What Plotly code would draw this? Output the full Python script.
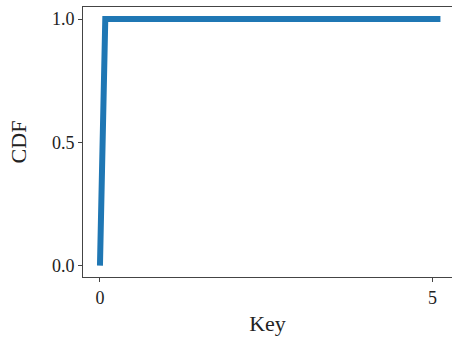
import plotly.graph_objects as go

keys = [0.0, 0.08, 5.12]
cdf = [0.0, 1.0, 1.0]
x_ticks = [0, 5]
y_ticks = [0.0, 0.5, 1.0]
y_tick_labels = ["0.0", "0.5", "1.0"]

font = dict(family="Liberation Serif, DejaVu Serif, serif", size=18, color="#222")

fig = go.Figure()
fig.add_trace(go.Scatter(x=keys, y=cdf, mode="lines",
                         line=dict(color="#1f77b4", width=6), showlegend=False))
fig.update_layout(
    width=452, height=341,
    margin=dict(l=83, r=0, t=7, b=64, autoexpand=False),
    paper_bgcolor="white", plot_bgcolor="white",
    font=font,
)
fig.update_xaxes(range=[-0.255, 5.294], tickvals=x_ticks, ticktext=[str(v) for v in x_ticks],
                 showgrid=False, zeroline=False, showline=True, linecolor="#444", linewidth=1,
                 mirror=True, ticks="outside", ticklen=4, tickcolor="#444", automargin=False,
                 title=dict(text="Key", standoff=9), tickfont=font)
fig.update_yaxes(range=[-0.046, 1.0487], tickvals=y_ticks, ticktext=y_tick_labels,
                 showgrid=False, zeroline=False, showline=True, linecolor="#444", linewidth=1,
                 ticks="outside", ticklen=4, tickcolor="#444", automargin=False,
                 title=dict(text="CDF", standoff=19), tickfont=font)
fig.write_html("out.html", config={"displayModeBar": False},
               post_script="document.body.style.margin='0';document.body.style.overflow='hidden';")
